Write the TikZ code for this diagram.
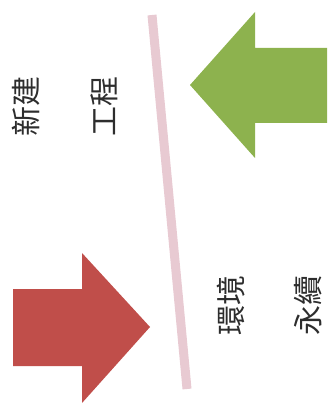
\documentclass[tikz,border=0pt]{standalone}
\usepackage{fontspec}
\newfontfamily\cjk{Noto Sans CJK TC}
\definecolor{arrgreen}{RGB}{141,178,78}
\definecolor{arrred}{RGB}{192,78,74}
\definecolor{linepink}{RGB}{232,202,210}
\definecolor{txtgray}{RGB}{45,45,45}
\tikzset{
  lbl/.style={font=\cjk\fontsize{30}{32}\selectfont, text=txtgray, rotate=90, inner sep=0pt},
}
\begin{document}
\begin{tikzpicture}[x=1pt,y=-1pt]
\useasboundingbox (0,0) rectangle (327,403);
% pink divider
\coordinate (ltop) at (152,15);
\coordinate (lbot) at (187,389);
\draw[linepink, line width=9pt] (ltop) -- (lbot);
% green arrow pointing left
\fill[arrgreen] (190,85) -- (255,12) -- (255,48) -- (327,48) -- (327,123) -- (255,123) -- (255,158) -- cycle;
% red arrow pointing right
\fill[arrred] (150,327) -- (82,253) -- (82,289) -- (13,289) -- (13,366) -- (82,366) -- (82,403) -- cycle;
% texts
\node[lbl] (t1) at (26,107) {新建};
\node[lbl] (t2) at (104,107) {工程};
\node[lbl] (t3) at (231,305) {環境};
\node[lbl] (t4) at (308,305) {永續};
\end{tikzpicture}
\end{document}
